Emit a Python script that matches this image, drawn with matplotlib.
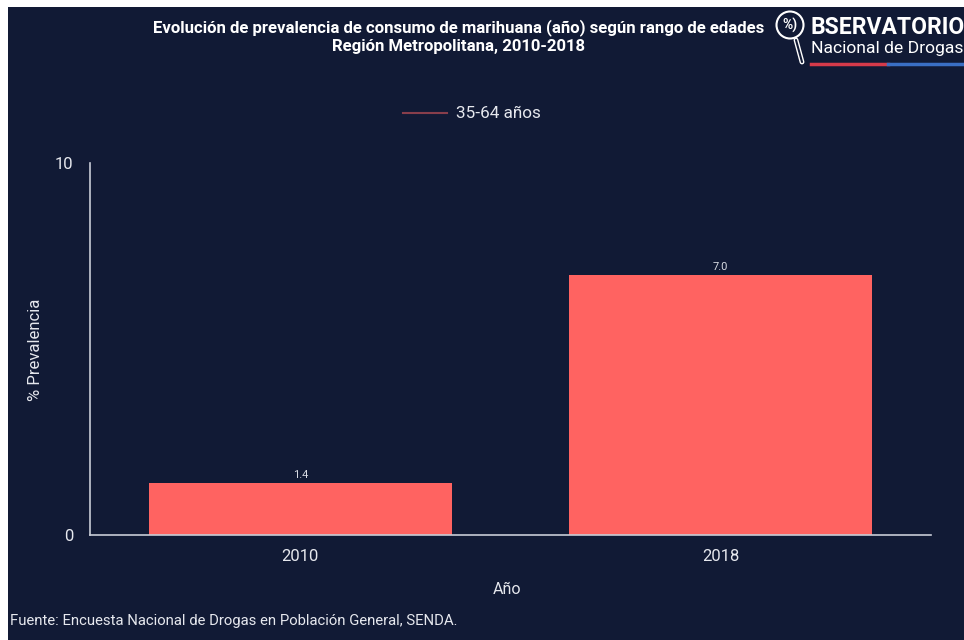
import matplotlib
matplotlib.use("Agg")
import matplotlib.pyplot as plt
from matplotlib.patches import Rectangle, Ellipse
from matplotlib.lines import Line2D

years = ["2010", "2018"]
values = [1.4, 7.0]
series_name = "35-64 años"
yticks = [0, 10]

BG = "#111a35"
BAR = "#ff6361"
TXT = "#e6e8ee"
W, H = 964, 640

plt.rcParams['font.family'] = ['Roboto', 'DejaVu Sans']
fig = plt.figure(figsize=(W/100, H/100), dpi=100)
fig.patch.set_facecolor("white")
fig.patches.append(Rectangle((8/W, 0), 1 - 8/W, 1 - 7/H, transform=fig.transFigure,
                             facecolor=BG, edgecolor="none", zorder=-5))

ax = fig.add_axes([90/W, 1 - 535/H, (931 - 90)/W, (535 - 163)/H])
ax.set_zorder(2)
ax.patch.set_alpha(0)
x = list(range(len(years)))
bars = ax.bar(x, values, width=0.72, color=BAR, zorder=2)
ax.set_xlim(-0.5, len(years) - 0.5)
ax.set_ylim(0, 10)
ax.set_yticks(yticks)
ax.set_xticks(x)
ax.set_xticklabels(years)
for s in ["top", "right"]:
    ax.spines[s].set_visible(False)
for s in ["left", "bottom"]:
    ax.spines[s].set_color("#c8ccd6")
    ax.spines[s].set_linewidth(1.2)
ax.tick_params(axis="both", length=0, colors=TXT, labelsize=12)
ax.tick_params(axis="y", pad=12)
ax.tick_params(axis="x", pad=10)
for xi, v in zip(x, values):
    ax.text(xi, v + 0.08, f"{v:.1f}", ha="center", va="bottom", color="#d8dbe3", fontsize=8)

fig.text(35/W, 1 - 350/H, "% Prevalencia", rotation=90, ha="center", va="center",
         color=TXT, fontsize=12)
fig.text(507/W, 1 - 590/H, "Año", ha="center", va="center", color=TXT, fontsize=11.5)
fig.text(10/W, 1 - 621/H, "Fuente: Encuesta Nacional de Drogas en Población General, SENDA.",
         ha="left", va="center", color=TXT, fontsize=10.7)

# Title
fig.text(459/W, 1 - 28/H, "Evolución de prevalencia de consumo de marihuana (año) según rango de edades",
         ha="center", va="center", color="white", fontsize=12.1, fontweight="bold")
fig.text(459/W, 1 - 47/H, "Región Metropolitana, 2010-2018",
         ha="center", va="center", color="white", fontsize=12.1, fontweight="bold")

# Legend
fig.lines.append(Line2D([403/W, 447/W], [1 - 113/H, 1 - 113/H], transform=fig.transFigure,
                        color=BAR, alpha=0.5, linewidth=1.5))
fig.text(456/W, 1 - 113/H, series_name, ha="left", va="center", color=TXT, fontsize=12.3)

# Logo
fig.patches.append(Ellipse((790/W, 1 - 25/H), 27/W, 27/H, transform=fig.transFigure,
                           facecolor="none", edgecolor="white", linewidth=1.5))
fig.lines.append(Line2D([796/W, 802/W], [1 - 40/H, 1 - 62/H], transform=fig.transFigure,
                        color="white", linewidth=3.5, solid_capstyle="round"))
fig.lines.append(Line2D([796/W, 802/W], [1 - 40/H, 1 - 62/H], transform=fig.transFigure,
                        color=BG, linewidth=1.5, solid_capstyle="round"))
fig.text(790/W, 1 - 25/H, "%)", ha="center", va="center", color="white",
         fontsize=10, fontweight="bold")
fig.text(811/W, 1 - 27/H, "BSERVATORIO", ha="left", va="center", color="white",
         fontsize=16.5, fontweight="bold")
fig.text(811/W, 1 - 49/H, "Nacional de Drogas", ha="left", va="center", color="white",
         fontsize=12.6)
fig.lines.append(Line2D([811/W, 888/W], [1 - 64/H, 1 - 64/H], transform=fig.transFigure,
                        color="#d63a4a", linewidth=2.5))
fig.lines.append(Line2D([888/W, 964/W], [1 - 64/H, 1 - 64/H], transform=fig.transFigure,
                        color="#3a6fc4", linewidth=2.5))

fig.savefig("out.png", dpi=100, facecolor=fig.get_facecolor())
